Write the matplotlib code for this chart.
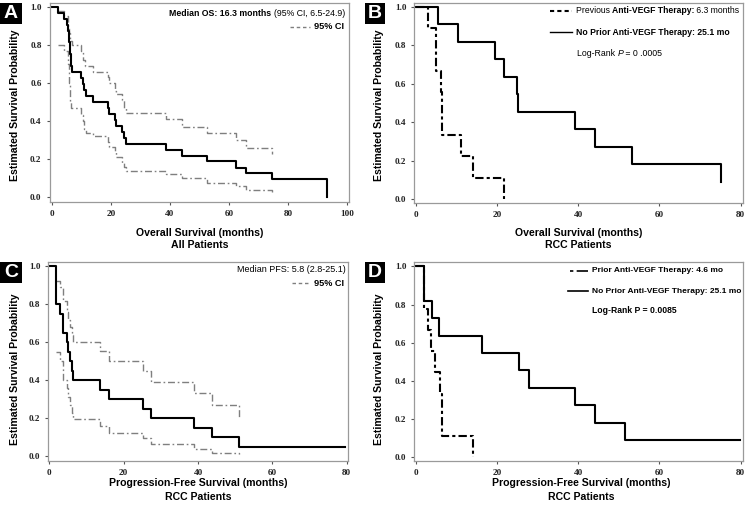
import matplotlib
matplotlib.use("Agg")
import matplotlib.pyplot as plt
from matplotlib.lines import Line2D
from matplotlib.patches import Rectangle

W, H = 750, 508

# ---------------- DATA ----------------
# Panel A: overall survival, all patients
a_t = [0, 2.2, 4.0, 5.3, 5.5, 5.7, 5.9, 6.1, 6.3, 6.5, 6.7, 6.9, 9.9, 10.5, 11.0, 11.5,
       13.9, 18.9, 19.4, 21.4, 21.6, 23.7, 24.6, 25.1, 38.6, 44.0, 52.6, 62.3, 65.8, 74.4, 93.0]
a_s = [1.0, 0.969, 0.938, 0.906, 0.875, 0.844, 0.813, 0.781, 0.750, 0.719, 0.688, 0.656,
       0.625, 0.594, 0.563, 0.531, 0.500, 0.469, 0.438, 0.406, 0.375, 0.344, 0.313, 0.281,
       0.250, 0.219, 0.188, 0.156, 0.125, 0.094, 0.0]
a_up_t = [2.2, 4.0, 5.4, 5.8, 6.2, 7.0, 9.9, 10.7, 11.2, 13.9, 18.9, 19.4, 21.4, 21.6,
          23.7, 24.6, 25.1, 38.6, 44.0, 52.6, 62.3, 65.8, 74.4]
a_up_s = [0.98, 0.95, 0.90, 0.86, 0.82, 0.80, 0.77, 0.72, 0.69, 0.66, 0.63, 0.60, 0.56,
          0.54, 0.51, 0.47, 0.44, 0.41, 0.37, 0.34, 0.30, 0.26, 0.227]
a_lo_t = [2.2, 4.0, 5.4, 5.8, 6.2, 6.6, 9.9, 10.5, 11.0, 11.5, 13.9, 18.9, 19.4, 21.4,
          21.6, 23.7, 24.6, 25.1, 38.6, 44.0, 52.6, 62.3, 65.8, 74.4]
a_lo_s = [0.80, 0.77, 0.70, 0.60, 0.50, 0.47, 0.43, 0.40, 0.36, 0.34, 0.32, 0.29, 0.265,
          0.24, 0.21, 0.18, 0.16, 0.14, 0.12, 0.10, 0.075, 0.06, 0.04, 0.03]

# Panel B: overall survival, RCC patients
b_prev_t = [0, 3.0, 4.9, 6.2, 6.4, 6.6, 11.2, 14.0, 21.7]
b_prev_s = [1.0, 0.889, 0.667, 0.556, 0.444, 0.333, 0.222, 0.111, 0.0]
b_no_t = [0, 5.6, 10.5, 19.6, 21.7, 25.0, 25.3, 39.3, 44.1, 53.2, 75.2]
b_no_s = [1.0, 0.909, 0.818, 0.727, 0.636, 0.545, 0.455, 0.364, 0.273, 0.182, 0.091]

# Panel C: progression-free survival, RCC patients
c_t = [0, 1.8, 2.9, 3.6, 4.7, 5.1, 5.6, 6.0, 6.5, 13.6, 16.1, 25.1, 27.4, 39.0, 43.9, 51.1, 79.6]
c_s = [1.0, 0.80, 0.75, 0.65, 0.60, 0.55, 0.50, 0.45, 0.40, 0.35, 0.30, 0.25, 0.20, 0.15,
       0.10, 0.05, 0.05]
c_up_t = [1.8, 2.9, 3.6, 4.7, 5.1, 5.6, 6.0, 6.5, 13.6, 16.1, 25.1, 27.4, 39.0, 43.9, 51.1]
c_up_s = [0.92, 0.89, 0.82, 0.76, 0.72, 0.68, 0.64, 0.60, 0.555, 0.50, 0.45, 0.39, 0.335,
          0.27, 0.205]
c_lo_t = [1.8, 2.9, 3.6, 4.7, 5.1, 5.6, 6.0, 6.5, 13.6, 16.1, 25.1, 27.4, 39.0, 43.9, 51.1]
c_lo_s = [0.55, 0.50, 0.40, 0.36, 0.31, 0.27, 0.23, 0.195, 0.16, 0.125, 0.095, 0.065,
          0.04, 0.02, 0.012]

# Panel D: progression-free survival by prior therapy
d_prior_t = [0, 2.1, 3.1, 3.7, 4.75, 6.0, 6.6, 14.0]
d_prior_s = [1.0, 0.778, 0.667, 0.556, 0.444, 0.333, 0.111, 0.0]
d_no_t = [0, 2.1, 3.9, 5.8, 16.4, 25.5, 27.8, 39.3, 44.2, 51.5, 79.8]
d_no_s = [1.0, 0.818, 0.727, 0.636, 0.545, 0.455, 0.364, 0.273, 0.182, 0.091, 0.091]

x_ticks_a = [0, 20, 40, 60, 80, 100]
x_ticks_bcd = [0, 20, 40, 60, 80]
y_ticks = [0.0, 0.2, 0.4, 0.6, 0.8, 1.0]
ylabel = "Estimated Survival Probability"

# ---------------- STYLE ----------------
SANS = "Liberation Sans"
SERIF = "Liberation Serif"
CI_COLOR = "#7f7f7f"
CI_STYLE = (0, (5, 2, 1.2, 2))

fig = plt.figure(figsize=(W / 100, H / 100), dpi=100)
fig.patch.set_facecolor("white")


def px_axes(l, t, r, b):
    return fig.add_axes([l / W, 1 - b / H, (r - l) / W, (b - t) / H])


def fx(x):
    return x / W


def fy(y):
    return 1 - y / H


def style_axes(ax, xlim, ylim, xticks):
    ax.set_xlim(*xlim)
    ax.set_ylim(*ylim)
    ax.set_xticks(xticks)
    ax.set_yticks(y_ticks)
    ax.set_xticklabels([str(v) for v in xticks])
    ax.set_yticklabels(["%.1f" % v for v in y_ticks])
    for s in ax.spines.values():
        s.set_color("#9a9a9a")
        s.set_linewidth(0.9)
    ax.tick_params(direction="out", length=2.2, width=0.8, color="#555555",
                   labelsize=6.6, pad=3.5)
    for lab in ax.get_xticklabels() + ax.get_yticklabels():
        lab.set_fontfamily(SERIF)
        lab.set_fontweight("bold")
        lab.set_color("#222222")


def runs_text(x_px, y_px, runs, ha="left"):
    """Place a sequence of text runs with different styles on one line."""
    renderer = fig.canvas.get_renderer()
    widths = []
    artists = []
    for txt, kw in runs:
        t = fig.text(0, 0, txt, va="center", ha="left", **kw)
        widths.append(t.get_window_extent(renderer).width)
        artists.append(t)
    total = sum(widths)
    x = x_px - total if ha == "right" else x_px
    for t, w in zip(artists, widths):
        t.set_position((fx(x), fy(y_px)))
        x += w


def panel_letter(x0, y0, x1, y1, letter):
    fig.add_artist(Rectangle((fx(x0), fy(y1)), (x1 - x0) / W, (y1 - y0) / H,
                             transform=fig.transFigure, facecolor="black",
                             edgecolor="none", zorder=10))
    fig.text(fx((x0 + x1) / 2), fy((y0 + y1) / 2 + 0.5), letter, color="white",
             fontsize=14, fontweight="bold", family=SANS, ha="center", va="center",
             zorder=11)


def xlabels(xc, y1, y2, line1, line2):
    fig.text(fx(xc), fy(y1), line1, ha="center", va="center", fontsize=7.6,
             fontweight="bold", family=SANS)
    fig.text(fx(xc), fy(y2), line2, ha="center", va="center", fontsize=7.6,
             fontweight="bold", family=SANS)


def ylab(xc, yc):
    fig.text(fx(xc), fy(yc), ylabel, ha="center", va="center", rotation=90,
             fontsize=7.6, fontweight="bold", family=SANS)


def legend_line(x0, x1, y, **kw):
    fig.add_artist(Line2D([fx(x0), fx(x1)], [fy(y), fy(y)], transform=fig.transFigure, **kw))


# ---------------- PANEL A ----------------
axA = px_axes(49.5, 3.3, 349.3, 201.7)
axA.step(a_up_t, a_up_s, where="post", color=CI_COLOR, lw=1.0, linestyle=CI_STYLE)
axA.step(a_lo_t, a_lo_s, where="post", color=CI_COLOR, lw=1.0, linestyle=CI_STYLE)
axA.step(a_t, a_s, where="post", color="black", lw=1.5)
style_axes(axA, (-0.74, 100.68), (-0.023, 1.018), x_ticks_a)

runs_text(345, 13.5, [("Median OS: 16.3 months ", dict(fontsize=6.3, fontweight="bold", family=SANS)),
                      ("(95% CI, 6.5-24.9)", dict(fontsize=6.3, family=SANS))], ha="right")
legend_line(290, 310, 26.7, color=CI_COLOR, lw=1.0, linestyle=(0, (2.5, 2)))
runs_text(313.5, 26.7, [("95% CI", dict(fontsize=6.6, fontweight="bold", family=SANS))])

xlabels(199.5, 233, 245, "Overall Survival (months)", "All Patients")
ylab(15, 105)
panel_letter(0, 3.3, 21.7, 23.5, "A")

# ---------------- PANEL B ----------------
axB = px_axes(414.3, 3.3, 742.7, 203.3)
axB.step(b_prev_t, b_prev_s, where="post", color="black", lw=1.5, linestyle=(0, (4, 1.5, 1.5, 1.5)))
axB.step(b_no_t, b_no_s, where="post", color="black", lw=1.5)
style_axes(axB, (-0.34, 80.5), (-0.022, 1.018), x_ticks_bcd)

legend_line(550, 572, 10.7, color="black", lw=1.5, linestyle=(0, (2, 1.5)))
runs_text(575.5, 10.7, [("Previous ", dict(fontsize=6.2, family=SANS)),
                        ("Anti-VEGF Therapy:", dict(fontsize=6.2, fontweight="bold", family=SANS)),
                        (" 6.3 months", dict(fontsize=6.2, family=SANS))])
legend_line(550, 572, 32.3, color="black", lw=1.0)
runs_text(575.5, 32.3, [("No Prior Anti-VEGF Therapy: 25.1 mo",
                         dict(fontsize=6.2, fontweight="bold", family=SANS))])
runs_text(577, 53.3, [("Log-Rank ", dict(fontsize=6.3, family=SANS)),
                      ("P", dict(fontsize=6.3, style="italic", family=SANS)),
                      (" = 0 .0005", dict(fontsize=6.3, family=SANS))])

xlabels(578.5, 233, 245, "Overall Survival (months)", "RCC Patients")
ylab(379, 105)
panel_letter(365, 3.3, 384.5, 23.5, "B")

# ---------------- PANEL C ----------------
axC = px_axes(48.3, 262.3, 347.7, 461.3)
axC.step(c_up_t, c_up_s, where="post", color=CI_COLOR, lw=1.0, linestyle=CI_STYLE)
axC.step(c_lo_t, c_lo_s, where="post", color=CI_COLOR, lw=1.0, linestyle=CI_STYLE)
axC.step(c_t, c_s, where="post", color="black", lw=1.5)
style_axes(axC, (-0.27, 80.27), (-0.026, 1.021), x_ticks_bcd)

runs_text(346, 269, [("Median PFS: 5.8 (2.8-25.1)", dict(fontsize=6.5, family=SANS))], ha="right")
legend_line(292, 310, 283.3, color=CI_COLOR, lw=1.0, linestyle=(0, (2.5, 2)))
runs_text(313.5, 283.3, [("95% CI", dict(fontsize=6.6, fontweight="bold", family=SANS))])

xlabels(198, 483.3, 496.7, "Progression-Free Survival (months)", "RCC Patients")
ylab(15, 369)
panel_letter(0, 262.3, 21.7, 282.5, "C")

# ---------------- PANEL D ----------------
axD = px_axes(414.3, 262.3, 742.7, 461.3)
axD.step(d_prior_t, d_prior_s, where="post", color="black", lw=1.5, linestyle=(0, (4, 1.5, 1.5, 1.5)))
axD.step(d_no_t, d_no_s, where="post", color="black", lw=1.5)
style_axes(axD, (-0.34, 80.5), (-0.021, 1.021), x_ticks_bcd)

legend_line(570, 588, 270.7, color="black", lw=1.2, linestyle=(0, (2, 2, 9, 2)))
runs_text(592, 270.7, [("Prior Anti-VEGF Therapy: 4.6 mo",
                        dict(fontsize=6.0, fontweight="semibold", family=SANS))])
legend_line(568, 588, 291.3, color="black", lw=1.2)
runs_text(592, 291.3, [("No Prior Anti-VEGF Therapy: 25.1 mo",
                        dict(fontsize=6.0, fontweight="semibold", family=SANS))])
runs_text(592, 310.7, [("Log-Rank P = 0.0085", dict(fontsize=6.2, fontweight="bold", family=SANS))])

xlabels(581, 483.3, 496.7, "Progression-Free Survival (months)", "RCC Patients")
ylab(379, 369)
panel_letter(365, 262.3, 384.5, 282.5, "D")

fig.savefig("out.png", dpi=100, facecolor="white")
